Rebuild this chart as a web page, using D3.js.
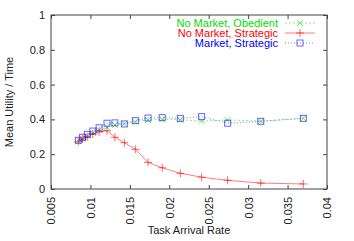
<!DOCTYPE html>
<html>
<head>
<meta charset="utf-8">
<script src="https://cdn.jsdelivr.net/npm/d3@7"></script>
<style>
  body { margin: 0; background: #fff; }
  text { font-family: "Liberation Sans", Arial, sans-serif; font-size: 11px; fill: #222; }
</style>
</head>
<body>
<script>
'use strict';

var width = 354;
var height = 241;

var rates = [0.00846, 0.0090, 0.0096, 0.0103, 0.0111, 0.0121, 0.0131, 0.0143, 0.0157, 0.0173, 0.0191, 0.0214, 0.0241, 0.0274, 0.0316, 0.037];
var obedient = [0.275, 0.29, 0.305, 0.322, 0.34, 0.355, 0.368, 0.375, 0.387, 0.397, 0.40, 0.398, 0.39, 0.397, 0.39, 0.406];
var strategic = [0.272, 0.287, 0.30, 0.316, 0.328, 0.335, 0.297, 0.266, 0.228, 0.153, 0.122, 0.090, 0.068, 0.05, 0.034, 0.029];
var market = [0.28, 0.297, 0.314, 0.333, 0.352, 0.378, 0.38, 0.374, 0.393, 0.408, 0.41, 0.406, 0.416, 0.378, 0.389, 0.406];

var xTicks = [0.005, 0.01, 0.015, 0.02, 0.025, 0.03, 0.035, 0.04];
var yTicks = [0, 0.2, 0.4, 0.6, 0.8, 1];

var series = [
  { name: 'No Market, Obedient', values: obedient, color: '#00e000', line: '#80f080', dash: '2,2', marker: 'x' },
  { name: 'No Market, Strategic', values: strategic, color: '#ff0000', line: '#ff8080', dash: null, marker: '+' },
  { name: 'Market, Strategic', values: market, color: '#0000ff', line: '#8080ff', dash: '1,2', marker: 'sq' }
];

var margin = { left: 51, right: 27, top: 15, bottom: 52 };
var x = d3.scaleLinear().domain([0.005, 0.04]).range([margin.left, width - margin.right]);
var y = d3.scaleLinear().domain([0, 1]).range([height - margin.bottom, margin.top]);

var svg = d3.select('body').append('svg').attr('width', width).attr('height', height);

// axes (ticks inward, mirrored)
var fmt = function (d) { return String(+d.toFixed(3)); };
svg.append('g').attr('transform', 'translate(0,' + y(0) + ')')
  .call(d3.axisBottom(x).tickValues(xTicks).tickSize(-4).tickFormat(fmt))
  .call(function (g) {
    g.select('.domain').remove();
    g.selectAll('line').attr('stroke', '#444');
    g.selectAll('text').attr('transform', 'rotate(-90)').attr('text-anchor', 'end')
      .attr('x', -8).attr('y', 0).attr('dy', '0.35em').attr('font-size', 11).attr('fill', '#222');
  });
svg.append('g').attr('transform', 'translate(0,' + y(1) + ')')
  .call(d3.axisTop(x).tickValues(xTicks).tickSize(-4).tickFormat(''))
  .call(function (g) { g.select('.domain').remove(); g.selectAll('line').attr('stroke', '#444'); });
svg.append('g').attr('transform', 'translate(' + x(0.005) + ',0)')
  .call(d3.axisLeft(y).tickValues(yTicks).tickSize(-4).tickPadding(6).tickFormat(fmt))
  .call(function (g) {
    g.select('.domain').remove();
    g.selectAll('line').attr('stroke', '#444');
    g.selectAll('text').attr('font-size', 11).attr('fill', '#222');
  });
svg.append('g').attr('transform', 'translate(' + x(0.04) + ',0)')
  .call(d3.axisRight(y).tickValues(yTicks).tickSize(-4).tickFormat(''))
  .call(function (g) { g.select('.domain').remove(); g.selectAll('line').attr('stroke', '#444'); });

svg.append('rect')
  .attr('x', x(0.005)).attr('y', y(1))
  .attr('width', x(0.04) - x(0.005)).attr('height', y(0) - y(1))
  .attr('fill', 'none').attr('stroke', '#444');

svg.append('text').attr('x', (x(0.005) + x(0.04)) / 2).attr('y', 234)
  .attr('text-anchor', 'middle').text('Task Arrival Rate');
svg.append('text').attr('transform', 'translate(13,' + (y(0) + y(1)) / 2 + ') rotate(-90)')
  .attr('text-anchor', 'middle').text('Mean Utility / Time');

function drawMarker(g, type, color) {
  if (type === 'x') {
    g.append('path').attr('d', 'M-3,-3L3,3M-3,3L3,-3').attr('stroke', color).attr('fill', 'none');
  } else if (type === '+') {
    g.append('path').attr('d', 'M-4,0L4,0M0,-4L0,4').attr('stroke', color).attr('fill', 'none');
  } else {
    g.append('rect').attr('x', -3).attr('y', -3).attr('width', 6).attr('height', 6)
      .attr('stroke', color).attr('fill', 'none');
  }
}

var line = d3.line().x(function (d) { return x(d[0]); }).y(function (d) { return y(d[1]); });

series.forEach(function (s) {
  var pts = rates.map(function (r, i) { return [r, s.values[i]]; });
  svg.append('path').datum(pts).attr('d', line)
    .attr('fill', 'none').attr('stroke', s.line).attr('stroke-width', 1)
    .attr('stroke-dasharray', s.dash);
  pts.forEach(function (p) {
    var g = svg.append('g').attr('transform', 'translate(' + x(p[0]) + ',' + y(p[1]) + ')')
      .attr('opacity', 0.6);
    drawMarker(g, s.marker, s.color);
  });
});

// legend
series.forEach(function (s, i) {
  var ly = 23 + i * 10;
  svg.append('text').attr('x', 278).attr('y', ly).attr('dy', '0.35em')
    .attr('text-anchor', 'end').style('fill', s.color).text(s.name);
  svg.append('line').attr('x1', 285).attr('x2', 315).attr('y1', ly).attr('y2', ly)
    .attr('stroke', s.line).attr('stroke-dasharray', s.dash);
  var g = svg.append('g').attr('transform', 'translate(300,' + ly + ')').attr('opacity', 0.6);
  drawMarker(g, s.marker, s.color);
});
</script>
</body>
</html>
